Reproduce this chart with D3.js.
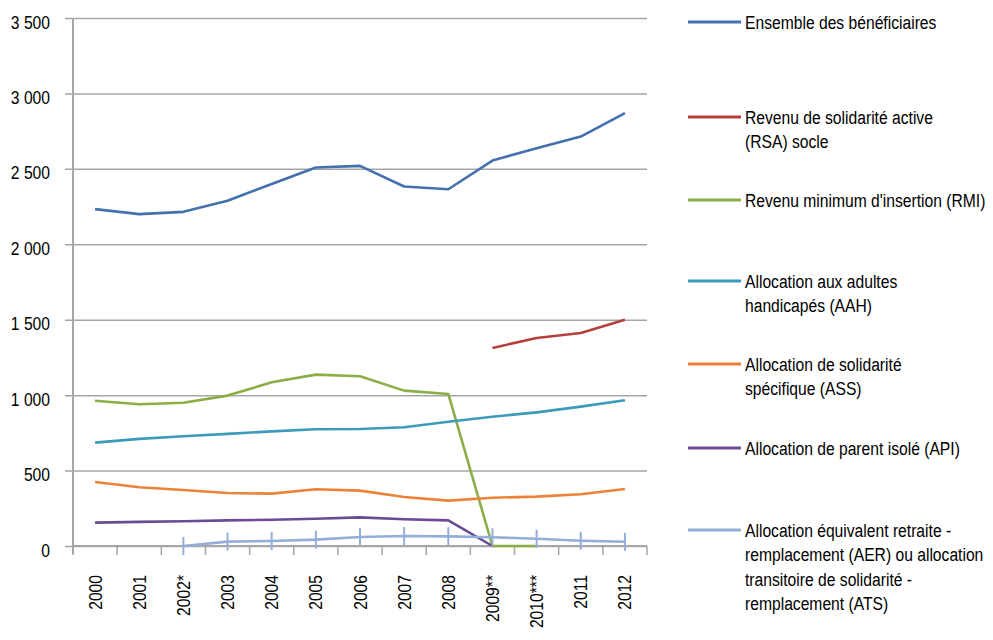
<!DOCTYPE html>
<html>
<head>
<meta charset="utf-8">
<script src="https://cdn.jsdelivr.net/npm/d3@7"></script>
<style>
  html, body { margin: 0; padding: 0; background: #fff; }
  #result svg { display: block; }
  svg text { font-family: "Liberation Sans", Arial, sans-serif; fill: #000; }
</style>
</head>
<body>
<div id="result"></div>
<script>
const width = 993;
const height = 640;
const margin = { top: 18, left: 73, right: 346, bottom: 94 };
const innerWidth = width - margin.left - margin.right;
const innerHeight = height - margin.top - margin.bottom;
// the reference uses a narrow font, so text is squeezed horizontally
const narrow = 0.87;

// categories and series (thousands of beneficiaries)
const years = ['2000', '2001', '2002*', '2003', '2004', '2005', '2006', '2007', '2008', '2009**', '2010***', '2011', '2012'];
const ensemble = [2233, 2200, 2215, 2288, 2400, 2509, 2520, 2383, 2365, 2555, 2637, 2714, 2869];
const rsa = [null, null, null, null, null, null, null, null, null, 1313, 1379, 1412, 1499];
const rmi = [963, 940, 950, 997, 1085, 1136, 1125, 1030, 1008, 0, 0, null, null];
const aah = [685, 710, 728, 743, 760, 774, 776, 787, 824, 857, 886, 924, 966];
const ass = [424, 389, 371, 351, 347, 376, 367, 325, 301, 320, 327, 343, 378];
const api = [155, 160, 164, 170, 174, 181, 190, 177, 170, 0, null, null, null];
const aer = [null, null, 0, 29, 33, 42, 60, 66, 64, 58, 48, 35, 28];
const yTicks = [0, 500, 1000, 1500, 2000, 2500, 3000, 3500];

const series = [
  { name: ['Ensemble des bénéficiaires'], values: ensemble, color: '#4470AE', ly: 22 },
  { name: ['Revenu de solidarité active', '(RSA) socle'], values: rsa, color: '#B5403D', ly: 117 },
  { name: ["Revenu minimum d'insertion (RMI)"], values: rmi, color: '#8BAE46', ly: 200 },
  { name: ['Allocation aux adultes', 'handicapés (AAH)'], values: aah, color: '#3C9BBB', ly: 281 },
  { name: ['Allocation de solidarité', 'spécifique (ASS)'], values: ass, color: '#EC8237', ly: 364 },
  { name: ['Allocation de parent isolé (API)'], values: api, color: '#6B4A96', ly: 448 },
  { name: ['Allocation équivalent retraite -', 'remplacement (AER) ou allocation', 'transitoire de solidarité -', 'remplacement (ATS)'], values: aer, color: '#94AEDA', ly: 530, marker: true }
];

const fr = d3.formatLocale({ decimal: ',', thousands: '\u00a0', grouping: [3], currency: ['', ' €'] });
const fmt = fr.format(',');

const svg = d3.select('#result')
  .append('svg')
  .attr('width', width)
  .attr('height', height);

const g = svg.append('g')
  .attr('transform', `translate(${margin.left}, ${margin.top})`);

const xScale = d3.scaleBand()
  .domain(years)
  .range([0, innerWidth]);

const yScale = d3.scaleLinear()
  .domain([0, 3500])
  .range([innerHeight, 0]);

// horizontal grid lines + y labels
const yAxis = g.append('g')
  .call(d3.axisLeft(yScale).tickValues(yTicks).tickFormat(fmt).tickSize(-innerWidth).tickSizeOuter(0));
yAxis.select('.domain').remove();
yAxis.selectAll('.tick line')
  .attr('x1', -8)
  .attr('stroke', '#a6a6a6')
  .attr('stroke-width', 1.5);
yAxis.selectAll('.tick text')
  .attr('transform', `scale(${narrow},1)`)
  .attr('x', -23 / narrow)
  .attr('dy', 10)
  .attr('text-anchor', 'end')
  .style('font-size', '18px');

// vertical axis line
g.append('line')
  .attr('x1', 0).attr('x2', 0)
  .attr('y1', 0).attr('y2', innerHeight + 8)
  .attr('stroke', '#a6a6a6')
  .attr('stroke-width', 2);

// x axis with ticks between categories
const xAxisG = g.append('g')
  .attr('transform', `translate(0, ${innerHeight})`);
xAxisG.append('line')
  .attr('x1', 0).attr('x2', innerWidth)
  .attr('stroke', '#a6a6a6')
  .attr('stroke-width', 2);
xAxisG.selectAll('.xtick')
  .data(years.concat(['end']))
  .enter()
  .append('line')
    .attr('class', 'xtick')
    .attr('x1', (d, i) => i * xScale.step())
    .attr('x2', (d, i) => i * xScale.step())
    .attr('y1', 0).attr('y2', 9)
    .attr('stroke', '#a6a6a6')
    .attr('stroke-width', 1.5);
xAxisG.selectAll('.xlabel')
  .data(years)
  .enter()
  .append('text')
    .attr('class', 'xlabel')
    .attr('transform', d => `translate(${xScale(d) + xScale.bandwidth() / 2 + 6.5}, 29) rotate(-90) scale(${narrow},1)`)
    .attr('text-anchor', 'end')
    .style('font-size', '18px')
    .text(d => d);

const line = d3.line()
  .defined(d => d != null)
  .x((d, i) => xScale(years[i]) + xScale.bandwidth() / 2)
  .y(d => yScale(d));

for (const s of series) {
  g.append('path')
    .datum(s.values)
    .attr('fill', 'none')
    .attr('stroke', s.color)
    .attr('stroke-width', 2.6)
    .attr('stroke-linejoin', 'round')
    .attr('d', line);

  if (s.marker) {
    g.selectAll('.mk')
      .data(s.values.map((v, i) => [years[i], v]).filter(d => d[1] != null))
      .enter()
      .append('line')
        .attr('x1', d => xScale(d[0]) + xScale.bandwidth() / 2)
        .attr('x2', d => xScale(d[0]) + xScale.bandwidth() / 2)
        .attr('y1', d => yScale(d[1]) - 9)
        .attr('y2', d => yScale(d[1]) + 9)
        .attr('stroke', s.color)
        .attr('stroke-width', 2);
  }
}

// legend, one text element per line
const legend = svg.append('g');
for (const s of series) {
  legend.append('line')
    .attr('x1', 688).attr('x2', 741)
    .attr('y1', s.ly).attr('y2', s.ly)
    .attr('stroke', s.color)
    .attr('stroke-width', 3);
  s.name.forEach((n, i) => {
    legend.append('text')
      .attr('transform', `translate(745, ${s.ly + 6.5 + i * 24.5}) scale(${narrow},1)`)
      .style('font-size', '18px')
      .text(n);
  });
}
</script>
</body>
</html>
